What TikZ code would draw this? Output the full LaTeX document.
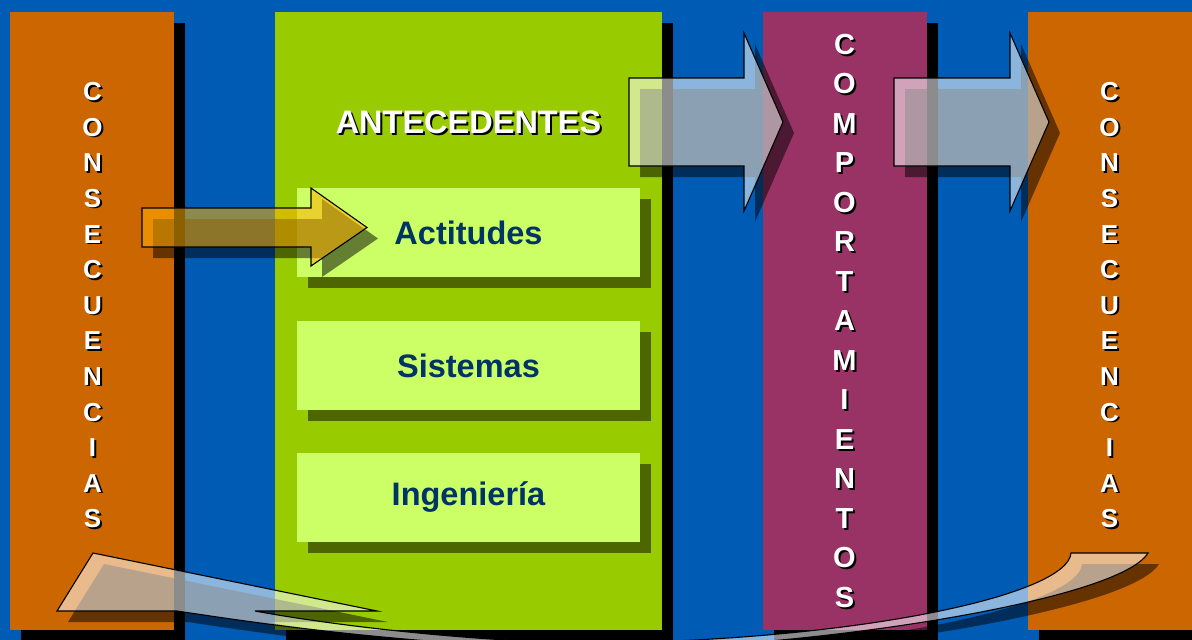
\documentclass[tikz,border=0pt]{standalone}
\usepackage{fontspec}
\setmainfont{Liberation Sans}
\usetikzlibrary{shadows}
\definecolor{bgblue}{RGB}{0,91,181}
\definecolor{corange}{RGB}{204,102,0}
\definecolor{cgreen}{RGB}{153,204,0}
\definecolor{lgreen}{RGB}{204,255,102}
\definecolor{bshadow}{RGB}{77,102,0}
\definecolor{cmag}{RGB}{153,51,102}
\definecolor{navy}{RGB}{0,51,102}
\definecolor{gold}{RGB}{255,175,0}
\begin{document}
\begin{tikzpicture}[x=1pt,y=-1pt,
  colbox/.style={draw=none,inner sep=0pt,outer sep=0pt,anchor=north west,
    minimum width=164pt,minimum height=618pt,
    drop shadow={shadow xshift=11pt,shadow yshift=-11pt,fill=black,opacity=1}},
  itembox/.style={fill=lgreen,draw=none,inner sep=0pt,outer sep=0pt,
    minimum width=343pt,minimum height=89pt,text=navy,
    font=\bfseries\fontsize{32.5}{36}\selectfont,
    drop shadow={shadow xshift=11pt,shadow yshift=-11pt,fill=bshadow,opacity=1}},
  lettera/.style={inner sep=0pt,text=white,font=\bfseries\fontsize{26}{26}\selectfont},
  letterb/.style={inner sep=0pt,text=white,font=\bfseries\fontsize{29}{29}\selectfont},
  titletext/.style={inner sep=0pt,text=white,font=\bfseries\fontsize{32.5}{36}\selectfont},
  txtshadow/.style={text=black},
  arrowshadow/.style={fill=black,fill opacity=0.5,draw=none},
  glassarrow/.style={fill=white,fill opacity=0.55,draw=black,draw opacity=1,line width=1.1pt,line join=miter},
  goldarrow/.style={fill=gold,fill opacity=0.55,draw=black,draw opacity=1,line width=1.1pt,line join=miter}]
\useasboundingbox (0,0) rectangle (1192,640);
\clip (0,0) rectangle (1192,640);
\fill[bgblue] (0,0) rectangle (1192,640);

% columns
\node[colbox,fill=corange] (colL) at (10,12) {};
\node[colbox,fill=cgreen,minimum width=387pt] (colG) at (275,12) {};
\node[colbox,fill=cmag] (colM) at (763,12) {};
\node[colbox,fill=corange] (colR) at (1028,12) {};

% boxes
\node[itembox] (act) at (468.5,232.5) {Actitudes};
\node[itembox] (sis) at (468.5,365.5) {Sistemas};
\node[itembox] (ing) at (468.5,497.5) {Ingeniería};

% title
\node[titletext,txtshadow] at (470.5,124.5) {ANTECEDENTES};
\node[titletext] (ante) at (468.5,122) {ANTECEDENTES};

% vertical words
\foreach \ch [count=\i from 0] in {C,O,N,S,E,C,U,E,N,C,I,A,S} {
  \node[lettera,txtshadow] at (94.5,93.2+35.6*\i) {\ch};
  \node[lettera] (lL\i) at (92.5,91.7+35.6*\i) {\ch};
  \node[lettera,txtshadow] at (1111.5,93.2+35.6*\i) {\ch};
  \node[lettera] (lR\i) at (1109.5,91.7+35.6*\i) {\ch};
}
\foreach \ch [count=\i from 0] in {C,O,M,P,O,R,T,A,M,I,E,N,T,O,S} {
  \node[letterb,txtshadow] at (846.5,46.5+39.5*\i) {\ch};
  \node[letterb] (lM\i) at (844.5,44.5+39.5*\i) {\ch};
}

% arrow shapes
\def\arrowA{(629,78) -- (744,78) -- (744,33) -- (783,122) -- (744,211) -- (744,166) -- (629,166) -- cycle}
\def\arrowB{(894,78) -- (1010,78) -- (1010,33) -- (1049,122) -- (1010,211) -- (1010,166) -- (894,166) -- cycle}
\def\arrowC{(142,208) -- (311,208) -- (311,188) -- (367,227.5) -- (311,266) -- (311,247) -- (142,247) -- cycle}
\def\arrowD{(1071,553) .. controls (1068,595) and (860,640) .. (600,643)
  .. controls (480,643) and (330,625) .. (255,611)
  -- (377,611) -- (93,553) -- (57,611) -- (177,611)
  .. controls (250,622) and (400,645) .. (600,650)
  .. controls (820,648) and (1120,600) .. (1148,553) -- cycle}

\begin{scope}[shift={(11,11)}]
  \fill[arrowshadow] \arrowA;
  \fill[arrowshadow] \arrowB;
  \fill[arrowshadow] \arrowC;
  \fill[arrowshadow] \arrowD;
\end{scope}
\filldraw[glassarrow] \arrowA;
\filldraw[glassarrow] \arrowB;
\filldraw[goldarrow] \arrowC;
\filldraw[glassarrow] \arrowD;
\end{tikzpicture}
\end{document}
